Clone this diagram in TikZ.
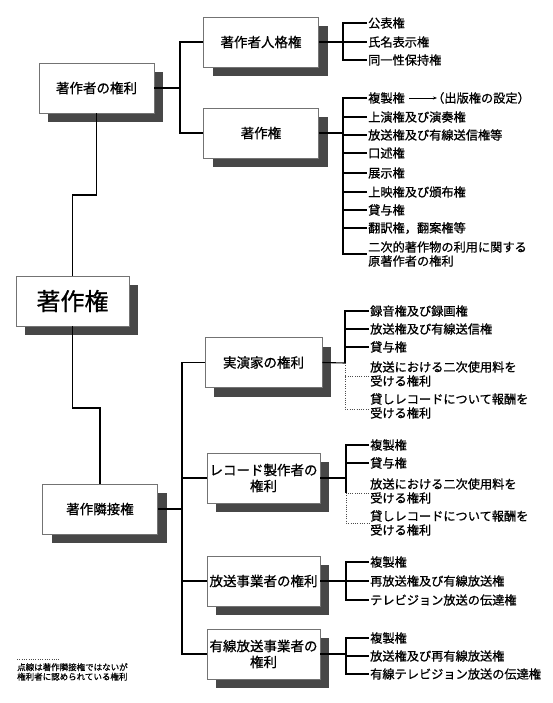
\documentclass[tikz,border=0pt]{standalone}
\usepackage{fontspec}
\setmainfont{Noto Sans CJK JP}[FakeBold=0.8]
\usetikzlibrary{shadows,arrows.meta}
\begin{document}
\begin{tikzpicture}[x=1pt,y=-1pt,
  box/.style={draw=black!55, line width=0.6pt, fill=white, minimum width=115pt, minimum height=50pt, inner sep=2pt,
    font=\fontsize{13.5}{16}\selectfont, align=center,
    drop shadow={shadow xshift=9pt, shadow yshift=-9pt, fill=black!72, opacity=1}},
  item/.style={anchor=west, inner sep=1pt, font=\fontsize{12.2}{14}\selectfont, align=left},
  link/.style={line width=1.1pt},
  dotlink/.style={line width=0.7pt, dash pattern=on 0.7pt off 1.6pt, black!70},
]
\useasboundingbox (0,0) rectangle (553,703);

% boxes
\node[box] (A) at (96.5,88) {著作者の権利};
\node[box] (P) at (261,42) {著作者人格権};
\node[box] (C) at (261,133) {著作権};
\node[box, minimum width=113pt, font=\fontsize{24}{28}\selectfont] (M) at (72.5,301) {著作権};
\node[box] (N) at (100,509) {著作隣接権};
\node[box, minimum width=117pt] (R1) at (263.5,362.5) {実演家の権利};
\node[box, minimum width=113pt] (R2) at (263.5,478) {レコード製作者の\\権利};
\node[box, minimum width=113pt] (R3) at (263.5,581) {放送事業者の権利};
\node[box, minimum width=113pt] (R4) at (263.5,654) {有線放送事業者の\\権利};

% trunk connectors
\coordinate (j1) at (72.5,195);
\coordinate (j2) at (100,408);
\draw[link] (A.south) |- (j1) -- (M.north);
\draw[link] (M.south) |- (j2) -- (N.north);
\coordinate (b1) at (180,88);
\draw[link] (A.east) -- (b1);
\draw[link] (P.west) -| (b1) |- (C.west);
\coordinate (b2) at (182,509);
\draw[link] (N.east) -- (b2);
\draw[link] (R1.west) -| (b2) |- (R4.west);
\draw[link] (R2.west) -| (b2);
\draw[link] (R3.west) -| (b2);

% 著作者人格権 list
\node[item] (p1) at (367,23) {公表権};
\node[item] (p2) at (367,42) {氏名表示権};
\node[item] (p3) at (367,60) {同一性保持権};
\coordinate (pb) at (343,42);
\draw[link] (P.east) -- (p2.west);
\draw[link] (p1.west) -| (pb) |- (p3.west);

% 著作権 list
\node[item] (c1) at (367,98) {複製権};
\node[item] (c2) at (367,117) {上演権及び演奏権};
\node[item] (c3) at (367,135) {放送権及び有線送信権等};
\node[item] (c4) at (367,153) {口述権};
\node[item] (c5) at (367,173) {展示権};
\node[item] (c6) at (367,192) {上映権及び頒布権};
\node[item] (c7) at (367,210) {貸与権};
\node[item] (c8) at (367,228) {翻訳権，翻案権等};
\node[item] (c9) at (367,254) {二次的著作物の利用に関する\\原著作者の権利};
\node[item, inner sep=0pt] (pub) at (432,98) {（出版権の設定）};
\coordinate (cb) at (343,133);
\draw[link] (C.east) -- (cb);
\draw[link] (c1.west) -| (cb) |- (c9.west);
\foreach \i in {2,...,8} \draw[link] (c\i.west) -- (c\i.west -| cb);
\draw[line width=0.7pt, -{Stealth[length=4pt,width=3pt]}] ([xshift=3pt]c1.east) -- ([xshift=5pt]pub.west);

% 実演家の権利 list
\node[item] (r11) at (369,311) {録音権及び録画権};
\node[item] (r12) at (369,329) {放送権及び有線送信権};
\node[item] (r13) at (369,347) {貸与権};
\node[item] (r14) at (369,374) {放送における二次使用料を\\受ける権利};
\node[item] (r15) at (369,406) {貸しレコードについて報酬を\\受ける権利};
\coordinate (r1b) at (345,363);
\draw[link] (R1.east) -- (r1b);
\draw[link] (r11.west) -| (r1b);
\draw[link] (r12.west) -- (r12.west -| r1b);
\draw[link] (r13.west) -- (r13.west -| r1b);
\draw[dotlink] (r1b) |- ([yshift=-3pt]r15.west);
\draw[dotlink] ([yshift=-2pt]r14.west) -- ([yshift=-2pt]r14.west -| r1b);

% レコード製作者の権利 list
\node[item] (r21) at (369,445) {複製権};
\node[item] (r22) at (369,463) {貸与権};
\node[item] (r23) at (369,491) {放送における二次使用料を\\受ける権利};
\node[item] (r24) at (369,523) {貸しレコードについて報酬を\\受ける権利};
\coordinate (r2b) at (346,478);
\coordinate (r2c) at (346,493);
\draw[link] (R2.east) -- (r2b);
\draw[link] (r21.west) -| (r2c);
\draw[link] (r22.west) -- (r22.west -| r2b);
\draw[dotlink] ([yshift=-2pt]r23.west) -- (r2c);
\draw[dotlink] (r2c) |- (r24.west);

% 放送事業者の権利 list
\node[item] (r31) at (369,562) {複製権};
\node[item] (r32) at (369,581) {再放送権及び有線放送権};
\node[item] (r33) at (369,600) {テレビジョン放送の伝達権};
\coordinate (r3b) at (346,581);
\draw[link] (R3.east) -- (r32.west);
\draw[link] (r31.west) -| (r3b) |- (r33.west);

% 有線放送事業者の権利 list
\node[item] (r41) at (369,638) {複製権};
\node[item] (r42) at (369,656) {放送権及び再有線放送権};
\node[item] (r43) at (369,674) {有線テレビジョン放送の伝達権};
\coordinate (r4b) at (346,656);
\draw[link] (R4.east) -| (r4b);
\draw[link] (r42.west) -- (r4b);
\draw[link] (r41.west) -| (r4b) |- (r43.west);

% legend
\coordinate (l1) at (17,659);
\coordinate (l2) at (60,659);
\draw[dotlink, line width=0.5pt] (l1) -- (l2);
\node[anchor=north west, inner sep=0pt, font=\fontsize{8.5}{9.5}\selectfont, align=left] (leg) at (17,663) {点線は著作隣接権ではないが\\権利者に認められている権利};
\end{tikzpicture}
\end{document}
